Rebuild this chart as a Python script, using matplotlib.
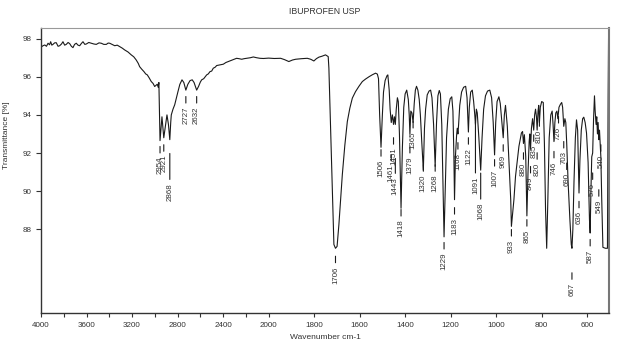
import numpy as np
import matplotlib
matplotlib.use("Agg")
import matplotlib.pyplot as plt
from matplotlib.ticker import FixedLocator, FixedFormatter

plt.rcParams['font.family'] = ['Liberation Sans', 'DejaVu Sans']

# ---- spectrum (wavenumber cm-1, transmittance %) ----
wavenumber = [
    4000, 3985, 3967, 3952, 3938, 3925, 3915, 3905, 3895, 3880, 3866, 3850, 3836, 3820,
    3807, 3792, 3778, 3762, 3748, 3733, 3719, 3705, 3690, 3675, 3660, 3645, 3631, 3615,
    3602, 3580, 3558, 3535, 3514, 3490, 3470, 3448, 3426, 3410, 3396, 3375, 3352, 3330,
    3308, 3285, 3265, 3235, 3207, 3185, 3163, 3145, 3133, 3115, 3095, 3080, 3066, 3050,
    3031, 3015, 3001, 2990, 2978, 2970, 2964, 2954, 2937, 2921, 2893, 2880, 2868, 2860,
    2855, 2840, 2825, 2810, 2796, 2780, 2761, 2745, 2727, 2710, 2690, 2671, 2655, 2632,
    2615, 2600, 2588, 2570, 2544, 2530, 2515, 2500, 2486, 2470, 2456, 2430, 2398, 2375,
    2354, 2339, 2310, 2281, 2260, 2236, 2215, 2192, 2160, 2134, 2105, 2076, 2045, 2017,
    2000, 1975, 1947, 1930, 1911, 1895, 1881, 1855, 1830, 1815, 1801, 1790, 1779, 1765,
    1750, 1743, 1738, 1735, 1728, 1720, 1713, 1706, 1699, 1691, 1676, 1665, 1654, 1643,
    1632, 1618, 1603, 1588, 1574, 1559, 1545, 1530, 1522, 1517, 1512, 1506, 1500, 1495,
    1488, 1480, 1476, 1470, 1466, 1461, 1456, 1451, 1447, 1443, 1439, 1434, 1430, 1425,
    1418, 1412, 1406, 1400, 1393, 1386, 1382, 1379, 1375, 1370, 1365, 1360, 1355, 1350,
    1344, 1338, 1333, 1327, 1320, 1315, 1310, 1303, 1295, 1288, 1282, 1275, 1268, 1262,
    1256, 1250, 1245, 1239, 1234, 1229, 1224, 1218, 1210, 1202, 1195, 1190, 1186, 1183,
    1179, 1174, 1171, 1168, 1165, 1160, 1152, 1143, 1134, 1128, 1125, 1122, 1118, 1112,
    1105, 1099, 1094, 1091, 1087, 1083, 1076, 1068, 1062, 1055, 1047, 1038, 1028, 1020,
    1013, 1007, 1002, 996, 988, 982, 975, 969, 964, 959, 951, 944, 936, 933,
    922, 915, 900, 889, 884, 880, 876, 870, 865, 860, 855, 852, 849, 845,
    840, 835, 831, 827, 823, 820, 816, 813, 810, 806, 800, 793, 788, 783,
    778, 773, 767, 760, 754, 750, 746, 742, 738, 733, 729, 724, 718, 712,
    708, 703, 698, 694, 690, 684, 676, 670, 667, 663, 658, 652, 647, 642,
    639, 636, 632, 626, 620, 615, 609, 603, 596, 590, 587, 584, 580, 576,
    572, 568, 565, 561, 558, 555, 552, 549, 546, 543, 540, 536, 531, 520,
    511, 508, 505,
]
transmittance = [
    97.55, 97.62, 97.67, 97.60, 97.76, 97.68, 97.84, 97.66, 97.70, 97.78, 97.79, 97.60, 97.63, 97.72,
    97.84, 97.66, 97.70, 97.80, 97.74, 97.60, 97.53, 97.70, 97.76, 97.66, 97.63, 97.75, 97.84, 97.70,
    97.72, 97.80, 97.76, 97.72, 97.70, 97.78, 97.76, 97.70, 97.70, 97.77, 97.76, 97.70, 97.63, 97.66,
    97.58, 97.50, 97.41, 97.30, 97.15, 97.05, 96.88, 96.70, 96.53, 96.40, 96.27, 96.15, 96.10, 95.95,
    95.75, 95.65, 95.49, 95.55, 95.61, 95.45, 95.70, 92.65, 93.90, 92.80, 94.00, 93.50, 92.70, 93.60,
    94.00, 94.30, 94.53, 94.90, 95.23, 95.60, 95.84, 95.70, 95.30, 95.60, 95.80, 95.84, 95.70, 95.30,
    95.50, 95.72, 95.84, 95.90, 96.10, 96.15, 96.27, 96.30, 96.45, 96.50, 96.59, 96.62, 96.66, 96.75,
    96.80, 96.83, 96.90, 96.97, 96.95, 96.92, 96.95, 96.97, 97.00, 97.04, 97.00, 96.97, 96.96, 96.97,
    96.98, 96.96, 96.97, 96.90, 96.80, 96.88, 96.92, 96.95, 96.97, 96.92, 96.83, 96.95, 97.03, 97.08,
    97.15, 97.10, 97.06, 96.45, 93.48, 89.99, 87.20, 87.00, 87.10, 88.25, 90.86, 92.40, 93.65, 94.35,
    94.88, 95.22, 95.50, 95.75, 95.88, 96.00, 96.10, 96.19, 96.14, 95.90, 94.00, 92.30, 94.00, 95.20,
    95.80, 96.05, 96.10, 95.30, 94.30, 93.60, 94.00, 93.50, 93.90, 93.50, 94.30, 94.90, 94.70, 93.00,
    89.10, 92.30, 94.40, 95.10, 95.30, 94.80, 94.00, 93.00, 94.20, 94.10, 93.60, 94.60, 95.30, 95.50,
    95.30, 94.80, 94.00, 92.60, 91.10, 93.30, 94.30, 95.05, 95.25, 95.30, 94.90, 93.50, 91.30, 93.60,
    95.00, 95.28, 95.10, 93.50, 90.50, 87.60, 90.00, 92.80, 94.30, 94.85, 94.95, 94.20, 92.00, 89.55,
    91.80, 92.90, 93.30, 93.00, 93.50, 94.50, 95.20, 95.45, 95.50, 94.90, 94.00, 93.10, 94.40, 95.20,
    95.30, 94.70, 94.00, 93.50, 94.30, 94.10, 92.80, 91.10, 92.80, 94.30, 95.00, 95.25, 95.30, 94.90,
    93.60, 91.90, 93.60, 94.70, 94.95, 94.60, 93.60, 92.80, 94.00, 94.50, 93.40, 91.65, 89.55, 88.15,
    89.55, 90.77, 92.35, 93.05, 93.13, 92.50, 92.96, 91.80, 88.70, 91.00, 92.60, 93.00, 92.20, 93.30,
    93.80, 93.20, 94.00, 94.30, 93.90, 93.20, 94.20, 94.50, 93.60, 94.40, 94.70, 94.65, 92.50, 89.00,
    87.00, 89.50, 92.80, 94.00, 94.20, 93.50, 92.60, 93.60, 94.10, 94.20, 93.80, 94.40, 94.55, 94.65,
    94.40, 93.40, 93.80, 93.60, 92.50, 90.50, 88.50, 87.20, 87.00, 88.00, 90.50, 92.80, 93.74, 93.20,
    91.50, 89.90, 91.60, 93.20, 93.80, 93.88, 93.60, 93.05, 91.50, 88.50, 87.80, 89.80, 91.80, 92.00,
    93.80, 95.00, 94.20, 93.50, 93.90, 93.00, 93.60, 92.70, 93.20, 92.50, 91.80, 89.50, 87.05, 87.00,
    87.00, 95.00, 100.0,
]

# ---- peak picking labels ----
peak_wn = [2954, 2921, 2868, 2727, 2632, 1706, 1506, 1461, 1451, 1443, 1418, 1379, 1365,
           1320, 1268, 1229, 1183, 1168, 1122, 1091, 1068, 1007, 969, 933, 880, 865,
           849, 835, 820, 810, 746, 726, 703, 690, 667, 636, 587, 576, 549, 540]
peak_text_level = [91.82, 91.91, 90.43, 94.44, 94.44, 86.06, 91.65, 91.40, 92.28, 90.75,
                   88.51, 91.82, 93.13, 90.86, 90.86, 86.78, 88.61, 92.02, 92.28, 90.77,
                   89.40, 91.13, 91.91, 87.46, 91.49, 87.98, 90.77, 92.43, 91.49, 93.22,
                   91.56, 93.39, 92.08, 90.95, 85.19, 88.94, 86.94, 90.43, 89.55, 91.91]
# longer leader lines (points) for labels pushed down
leader_extra = {2868: 14, 1091: 32, 1068: 14, 1443: 6}

x_ticks = list(range(4000, 599, -200))
x_tick_labels = ["4000", "", "3600", "", "3200", "", "2800", "", "2400", "", "2000",
                 "1800", "1600", "1400", "1200", "1000", "800", "600"]
y_ticks = [88, 90, 92, 94, 96, 98]


# axis is compressed by 2x above 2000 cm-1
def fwd(w):
    w = np.asarray(w, dtype=float)
    return np.where(w > 2000, 2000 + (w - 2000) / 2.0, w)


def inv(t):
    t = np.asarray(t, dtype=float)
    return np.where(t > 2000, 2000 + (t - 2000) * 2.0, t)


fig = plt.figure(figsize=(6.24, 3.5), dpi=100)
ax = fig.add_axes([0.0657, 0.1066, 0.9107, 0.8134])
ax.set_xscale('function', functions=(fwd, inv))

ax.plot(wavenumber, transmittance, color="#1a1a1a", linewidth=0.8)

ax.set_xlim(4000, 503)
ax.set_ylim(83.62, 98.56)

for w, lvl in zip(peak_wn, peak_text_level):
    ext = leader_extra.get(w, 0)
    ax.annotate("", xy=(w, lvl), xycoords="data",
                xytext=(0, 7.2 + ext), textcoords="offset points",
                arrowprops=dict(arrowstyle="-", shrinkA=0, shrinkB=2.5,
                                color="#1a1a1a", lw=0.8))
    ax.text(w, lvl, str(w), rotation=90, ha="center", va="top",
            fontsize=5.7, color="#333333")

ax.xaxis.set_major_locator(FixedLocator(x_ticks))
ax.xaxis.set_major_formatter(FixedFormatter(x_tick_labels))
ax.xaxis.set_minor_locator(FixedLocator([]))
ax.set_yticks(y_ticks)
ax.set_yticklabels([str(v) for v in y_ticks])
ax.tick_params(axis="both", labelsize=5.8, colors="#333333", direction="out")
ax.tick_params(axis="x", length=3, pad=4)
ax.tick_params(axis="y", length=3.6, pad=3)

for side in ("left", "bottom"):
    ax.spines[side].set_color("#333333")
    ax.spines[side].set_linewidth(1.0)
ax.spines["top"].set_color("#999999")
ax.spines["top"].set_linewidth(0.8)
ax.spines["right"].set_color("#777777")
ax.spines["right"].set_linewidth(1.5)

ax.set_title("IBUPROFEN USP", fontsize=6.3, color="#333333", pad=10)
ax.set_xlabel("Wavenumber cm-1", fontsize=6, color="#333333", labelpad=3)
ax.set_ylabel("Transmittance [%]", fontsize=6, color="#333333")
ax.yaxis.set_label_coords(-0.055, 0.625)

fig.savefig("out.png", dpi=100)
